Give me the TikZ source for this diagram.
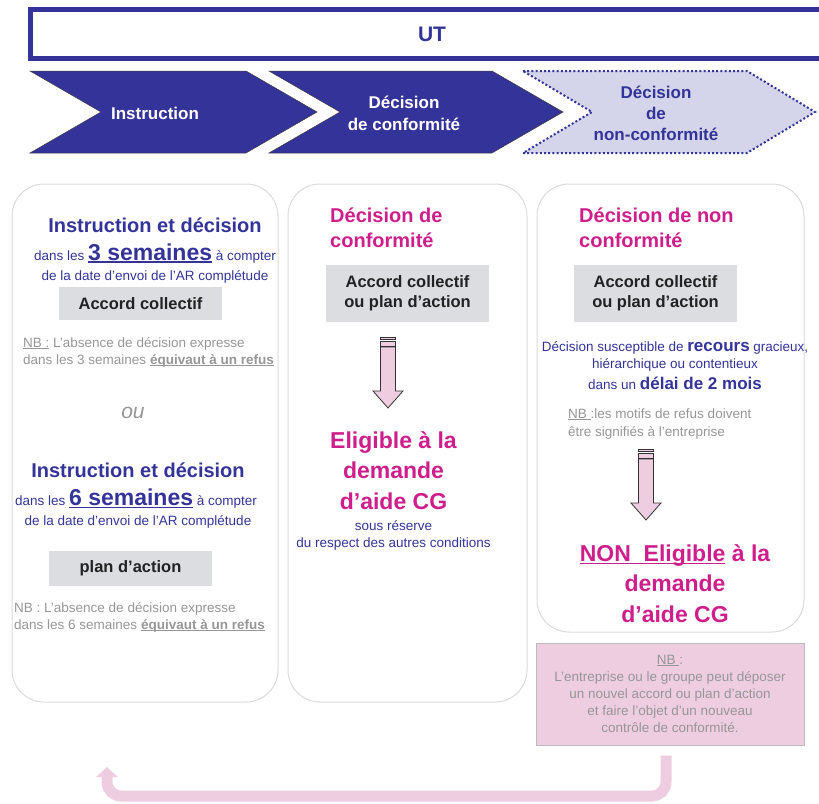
\documentclass[tikz,border=0pt]{standalone}
\usepackage{fontspec}
\setmainfont{Liberation Sans}
\usetikzlibrary{arrows.meta}

\definecolor{bleuut}{RGB}{51,51,153}
\definecolor{lavande}{RGB}{212,212,234}
\definecolor{magentacg}{RGB}{206,30,140}
\definecolor{grisboite}{RGB}{220,221,224}
\definecolor{gristexte}{RGB}{150,150,150}
\definecolor{rose}{RGB}{239,205,225}
\definecolor{bordgris}{RGB}{218,218,218}
\definecolor{bordrose}{RGB}{188,188,188}
\definecolor{noirtexte}{RGB}{34,34,34}

% soulignement juste sous la ligne de base
\newcommand\souligne[1]{\setbox0\hbox{#1}\rlap{\rule[-0.13em]{\wd0}{0.065em}}\box0\relax}

\tikzset{
  flecherayee/.pic={
    \filldraw[bloc] (-7.5,0) rectangle (7.5,2);
    \filldraw[bloc] (-7.5,4) rectangle (7.5,9);
    \filldraw[bloc] (-7.5,10) -- (7.5,10) -- (7.5,54) -- (15,54) -- (0,71)
      -- (-15,54) -- (-7.5,54) -- cycle;
  }
}

\begin{document}
\begin{tikzpicture}[x=1pt, y=-1pt,
    panneau/.style={draw=bordgris, line width=1pt, rounded corners=32pt, inner sep=0pt},
    boite/.style={fill=grisboite, inner sep=0pt, align=center, text=noirtexte,
      font=\fontsize{16.5}{20}\selectfont\bfseries},
    titrebleu/.style={text=bleuut, anchor=base, font=\fontsize{20}{24}\selectfont\bfseries},
    texte/.style={text=bleuut, anchor=base, align=center, inner sep=0pt,
      font=\fontsize{13.5}{17}\selectfont},
    note/.style={text=gristexte, anchor=base west, align=left, inner sep=0pt,
      font=\fontsize{13.5}{17}\selectfont},
    titrerose/.style={text=magentacg, anchor=base west, align=left, inner sep=0pt,
      font=\fontsize{20}{25}\selectfont\bfseries},
    eligible/.style={text=magentacg, anchor=base, align=center, inner sep=0pt,
      font=\fontsize{23}{30.5}\selectfont\bfseries},
    chevron/.style={fill=bleuut, draw=black!75, line width=0.5pt},
    etape/.style={text=white, align=center, font=\fontsize{17}{22}\selectfont\bfseries},
    bloc/.style={fill=rose, draw=black!80, line width=0.8pt},
    fleche retour/.style={draw=rose, line width=11pt, rounded corners=14pt,
      -{Triangle[width=21pt,length=10pt]}}
]
\useasboundingbox (0,0) rectangle (819,803);

% Bandeau UT
\node[draw=bleuut, line width=5pt, minimum width=803pt, minimum height=49pt,
  text=bleuut, font=\fontsize{21}{24}\selectfont\bfseries] (ut) at (432,34) {UT};

% Etapes
\filldraw[chevron] (30,71) -- (246,71) -- (317,112) -- (246,153) -- (30,153) -- (101,112) -- cycle;
\filldraw[chevron] (269,71) -- (492,71) -- (563,112) -- (492,153) -- (269,153) -- (340,112) -- cycle;
\filldraw[fill=lavande, draw=bleuut, line width=2pt, dash pattern=on 2pt off 2.2pt]
  (523,71) -- (747,71) -- (815,112) -- (747,153) -- (523,153) -- (592,112) -- cycle;
\node[etape] (e1) at (155,113) {Instruction};
\node[etape] (e2) at (404,113) {Décision\\de conformité};
\node[etape, text=bleuut, font=\fontsize{17}{21}\selectfont\bfseries] (e3) at (656,113) {Décision\\de\\non-conformité};

% Panneaux
\node[panneau, minimum width=266pt, minimum height=518pt] (p1) at (145,443) {};
\node[panneau, minimum width=239pt, minimum height=518pt] (p2) at (407.5,443) {};
\node[panneau, minimum width=267pt, minimum height=448pt] (p3) at (670.5,408) {};

% Panneau 1 : instruction
\node[titrebleu] (t1) at (155,232) {Instruction et décision};
\node[texte] (d1) at (155,260) {dans les {\fontsize{23}{28}\selectfont\bfseries\souligne{3 semaines}} à compter};
\node[texte] (r1) at (155,280) {de la date d’envoi de l’AR complétude};
\node[boite, minimum width=163pt, minimum height=33pt] (b1) at (140.5,303.5) {Accord collectif};
\node[note] (n1) at (23,364) {\souligne{NB :} L’absence de décision expresse\\dans les 3 semaines \textbf{\souligne{équivaut à un refus}}};
\node[text=gristexte, anchor=base, font=\fontsize{21}{24}\selectfont\itshape] (ou) at (133,418) {ou};
\node[titrebleu] (t2) at (138,477) {Instruction et décision};
\node[texte] (d2) at (136,505) {dans les {\fontsize{23}{28}\selectfont\bfseries\souligne{6 semaines}} à compter};
\node[texte] (r2) at (138,525) {de la date d’envoi de l’AR complétude};
\node[boite, minimum width=163pt, minimum height=35pt] (b2) at (130.5,568.5) {plan d’action};
\node[note] (n2) at (14,629) {NB : L’absence de décision expresse\\dans les 6 semaines \textbf{\souligne{équivaut à un refus}}};

% Panneau 2 : conformite
\node[titrerose] (t3) at (330,247) {Décision de\\conformité};
\node[boite, minimum width=163pt, minimum height=57pt] (b3) at (407.5,293.5) {Accord collectif\\ou plan d’action};
\pic at (388,337) {flecherayee};
\node[eligible] (el) at (393.5,509) {Eligible à la\\demande\\d’aide CG};
\node[texte] (sr) at (393.5,547) {sous réserve\\du respect des autres conditions};

% Panneau 3 : non-conformite
\node[titrerose] (t4) at (579,247) {Décision de non\\conformité};
\node[boite, minimum width=163pt, minimum height=57pt] (b4) at (655.5,293.5) {Accord collectif\\ou plan d’action};
\node[texte] (rc) at (675,389) {Décision susceptible de {\fontsize{17}{17}\selectfont\bfseries recours} gracieux,\\
  hiérarchique ou contentieux\\[4pt]
  dans un {\fontsize{17}{17}\selectfont\bfseries délai de 2 mois}};
\node[note] (n3) at (568,436) {\souligne{NB }:les motifs de refus doivent\\[1pt]être signifiés à l’entreprise};
\pic at (646,449) {flecherayee};
\node[eligible] (ne) at (675,622) {\souligne{NON\ \ Eligible} à la\\demande\\d’aide CG};

% Note et retour
\node[fill=rose, draw=bordrose, line width=1pt, minimum width=268pt, minimum height=102pt,
  inner sep=0pt, align=center, text=gristexte, font=\fontsize{13.5}{17.2}\selectfont] (nb) at (670,694)
  {\souligne{NB }:\\L’entreprise ou le groupe peut déposer\\un nouvel accord ou plan d’action\\et faire l’objet d’un nouveau\\contrôle de conformité.};
\coordinate (retour) at (107,767);
\draw[fleche retour] ([xshift=-4pt,yshift=-10pt]nb.south) |- ([yshift=-29pt]retour) -- (retour);

\end{tikzpicture}
\end{document}
